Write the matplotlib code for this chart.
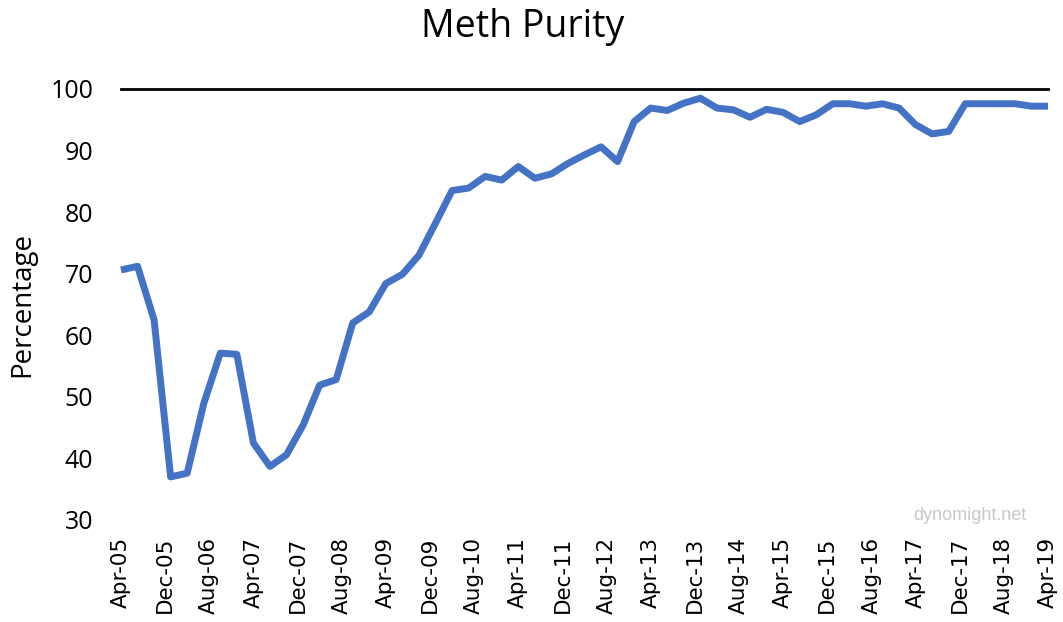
import matplotlib
matplotlib.use("Agg")
import matplotlib.pyplot as plt

# quarterly purity readings, Apr-05 .. Apr-19
purity = [70.6, 71.2, 62.5, 37.0, 37.6, 48.9, 57.1, 56.9, 42.5, 38.7,
          40.6, 45.4, 51.9, 52.8, 62.0, 63.8, 68.4, 69.9, 73.0, 78.2,
          83.5, 83.9, 85.8, 85.2, 87.4, 85.5, 86.2, 87.9, 89.3, 90.6,
          88.2, 94.7, 96.9, 96.5, 97.7, 98.5, 96.9, 96.6, 95.4, 96.7,
          96.2, 94.7, 95.8, 97.6, 97.6, 97.2, 97.6, 96.9, 94.2, 92.7,
          93.1, 97.6, 97.6, 97.6, 97.6, 97.2, 97.2]
months = [3 * i for i in range(len(purity))]  # months since Apr-05

tick_labels = ["Apr-05", "Dec-05", "Aug-06", "Apr-07", "Dec-07", "Aug-08",
               "Apr-09", "Dec-09", "Aug-10", "Apr-11", "Dec-11", "Aug-12",
               "Apr-13", "Dec-13", "Aug-14", "Apr-15", "Dec-15", "Aug-16",
               "Apr-17", "Dec-17", "Aug-18", "Apr-19"]
tick_pos = [8 * i for i in range(len(tick_labels))]
y_ticks = [30, 40, 50, 60, 70, 80, 90, 100]

fig = plt.figure(figsize=(10.63, 6.22), dpi=100)
ax = fig.add_axes([0.1138, 0.164, 0.8721, 0.693])

ax.axhline(100, color="black", lw=2, clip_on=False, zorder=1)
ax.plot(months, purity, color="#4472C4", lw=5, solid_joinstyle="round",
        solid_capstyle="butt", clip_on=False, zorder=2)

ax.set_xlim(0, 168)
ax.set_ylim(30, 100)
for s in ax.spines.values():
    s.set_visible(False)

ax.set_xticks(tick_pos)
ax.set_xticklabels(tick_labels, rotation=90, fontsize=15.5, family="DejaVu Sans")
ax.set_yticks(y_ticks)
ax.set_yticklabels([str(v) for v in y_ticks], fontsize=18, family="Open Sans")
ax.tick_params(axis="both", length=0)
ax.tick_params(axis="x", pad=12)
ax.tick_params(axis="y", pad=20)

fig.text(0.021, 0.51, "Percentage", rotation=90, ha="center", va="center",
         fontsize=20, family="Open Sans")
fig.text(0.492, 0.956, "Meth Purity", ha="center", va="center",
         fontsize=27, family="Open Sans")
fig.text(0.912, 0.172, "dynomight.net", ha="center", va="center",
         fontsize=13, color="#c8c8c8", family="Liberation Sans")

fig.savefig("out.png", dpi=100)
